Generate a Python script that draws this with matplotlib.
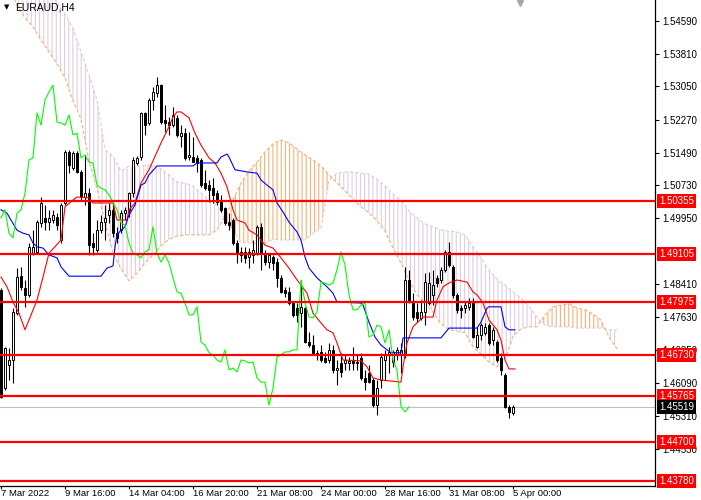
import numpy as np
import matplotlib
matplotlib.use("Agg")
import matplotlib.pyplot as plt

plt.rcParams['font.family'] = ['Liberation Sans', 'DejaVu Sans']
plt.rcParams['hatch.linewidth'] = 0.8

# ---- EURAUD H4 candles (bar 0 = 7 Mar 2022 00:00) ----
opens = [1.4826, 1.4596, 1.4650, 1.4662, 1.4772, 1.4859, 1.4831, 1.4815, 1.4913, 1.4916,
         1.4984, 1.4996, 1.4986, 1.4991, 1.4998, 1.4944, 1.5031, 1.5151, 1.5113, 1.5148,
         1.5104, 1.5045, 1.5054, 1.4937, 1.4921, 1.4967, 1.4986, 1.5003, 1.5015, 1.4960,
         1.4967, 1.5007, 1.5015, 1.5054, 1.5125, 1.5139, 1.5243, 1.5219, 1.5273, 1.5289,
         1.5308, 1.5226, 1.5221, 1.5214, 1.5231, 1.5188, 1.5195, 1.5139, 1.5139, 1.5137,
         1.5132, 1.5078, 1.5073, 1.5066, 1.5054, 1.5033, 1.5019, 1.4986, 1.4991, 1.4937,
         1.4916, 1.4916, 1.4904, 1.4909, 1.4913, 1.4975, 1.4909, 1.4892, 1.4904, 1.4892,
         1.4855, 1.4826, 1.4822, 1.4796, 1.4784, 1.4772, 1.4784, 1.4704, 1.4697, 1.4679,
         1.4681, 1.4667, 1.4662, 1.4686, 1.4639, 1.4655, 1.4655, 1.4655, 1.4662, 1.4655,
         1.4667, 1.4620, 1.4631, 1.4615, 1.4556, 1.4615, 1.4662, 1.4674, 1.4657, 1.4674,
         1.4674, 1.4679, 1.4850, 1.4796, 1.4775, 1.4761, 1.4775, 1.4796, 1.4815, 1.4855,
         1.4850, 1.4874, 1.4916, 1.4881, 1.4815, 1.4784, 1.4784, 1.4787, 1.4796, 1.4693,
         1.4721, 1.4726, 1.4744, 1.4709, 1.4704, 1.4667, 1.4627, 1.4552, 1.4537]
highs = [1.4831, 1.4693, 1.4690, 1.4784, 1.4878, 1.4881, 1.4850, 1.4937, 1.4967, 1.4991,
         1.5045, 1.5026, 1.5015, 1.5015, 1.5007, 1.5031, 1.5156, 1.5156, 1.5153, 1.5153,
         1.5109, 1.5144, 1.5066, 1.4960, 1.4991, 1.5003, 1.5026, 1.5031, 1.5026, 1.4975,
         1.5015, 1.5022, 1.5057, 1.5139, 1.5141, 1.5245, 1.5245, 1.5278, 1.5304, 1.5327,
         1.5311, 1.5261, 1.5233, 1.5257, 1.5238, 1.5214, 1.5207, 1.5198, 1.5186, 1.5144,
         1.5137, 1.5109, 1.5085, 1.5090, 1.5062, 1.5050, 1.5022, 1.5007, 1.4996, 1.4944,
         1.4928, 1.4928, 1.4925, 1.4944, 1.4979, 1.4984, 1.4921, 1.4913, 1.4909, 1.4902,
         1.4862, 1.4834, 1.4834, 1.4798, 1.4796, 1.4850, 1.4787, 1.4728, 1.4721, 1.4686,
         1.4697, 1.4681, 1.4702, 1.4697, 1.4662, 1.4679, 1.4674, 1.4669, 1.4693, 1.4674,
         1.4679, 1.4639, 1.4650, 1.4620, 1.4615, 1.4679, 1.4686, 1.4693, 1.4686, 1.4693,
         1.4702, 1.4881, 1.4874, 1.4819, 1.4796, 1.4803, 1.4866, 1.4869, 1.4874, 1.4862,
         1.4881, 1.4921, 1.4939, 1.4885, 1.4819, 1.4791, 1.4798, 1.4808, 1.4808, 1.4740,
         1.4749, 1.4749, 1.4749, 1.4740, 1.4709, 1.4679, 1.4631, 1.4556, 1.4556]
lows = [1.4573, 1.4591, 1.4615, 1.4608, 1.4768, 1.4826, 1.4787, 1.4810, 1.4909, 1.4913,
        1.4975, 1.4967, 1.4967, 1.4984, 1.4967, 1.4937, 1.5026, 1.5101, 1.5109, 1.5101,
        1.5038, 1.5026, 1.4909, 1.4909, 1.4916, 1.4960, 1.4944, 1.4984, 1.4951, 1.4937,
        1.4960, 1.4991, 1.4998, 1.5045, 1.5120, 1.5132, 1.5191, 1.5214, 1.5250, 1.5280,
        1.5217, 1.5198, 1.5191, 1.5210, 1.5186, 1.5163, 1.5132, 1.5132, 1.5127, 1.5104,
        1.5069, 1.5062, 1.5033, 1.5031, 1.5026, 1.5010, 1.4979, 1.4967, 1.4932, 1.4890,
        1.4892, 1.4890, 1.4878, 1.4890, 1.4909, 1.4874, 1.4885, 1.4878, 1.4874, 1.4834,
        1.4819, 1.4810, 1.4791, 1.4763, 1.4751, 1.4740, 1.4702, 1.4693, 1.4674, 1.4662,
        1.4657, 1.4655, 1.4655, 1.4631, 1.4603, 1.4622, 1.4639, 1.4639, 1.4639, 1.4639,
        1.4615, 1.4591, 1.4608, 1.4552, 1.4533, 1.4596, 1.4615, 1.4631, 1.4646, 1.4662,
        1.4631, 1.4667, 1.4796, 1.4756, 1.4751, 1.4756, 1.4744, 1.4791, 1.4791, 1.4834,
        1.4843, 1.4869, 1.4881, 1.4808, 1.4772, 1.4761, 1.4772, 1.4780, 1.4714, 1.4690,
        1.4709, 1.4721, 1.4697, 1.4697, 1.4657, 1.4627, 1.4549, 1.4526, 1.4533]
closes = [1.4575, 1.4690, 1.4662, 1.4775, 1.4857, 1.4834, 1.4815, 1.4928, 1.4928, 1.4986,
          1.5031, 1.4986, 1.4996, 1.5003, 1.4979, 1.5026, 1.5151, 1.5120, 1.5148, 1.5104,
          1.5045, 1.5054, 1.4932, 1.4928, 1.4967, 1.4986, 1.4996, 1.5015, 1.4960, 1.4949,
          1.5007, 1.5015, 1.5054, 1.5132, 1.5137, 1.5243, 1.5214, 1.5273, 1.5292, 1.5308,
          1.5221, 1.5219, 1.5214, 1.5238, 1.5191, 1.5195, 1.5137, 1.5144, 1.5127, 1.5125,
          1.5073, 1.5066, 1.5062, 1.5050, 1.5033, 1.5015, 1.4984, 1.4979, 1.4937, 1.4913,
          1.4909, 1.4902, 1.4916, 1.4921, 1.4975, 1.4913, 1.4892, 1.4909, 1.4890, 1.4855,
          1.4822, 1.4819, 1.4796, 1.4768, 1.4768, 1.4787, 1.4704, 1.4697, 1.4679, 1.4674,
          1.4662, 1.4657, 1.4686, 1.4639, 1.4643, 1.4634, 1.4662, 1.4660, 1.4655, 1.4657,
          1.4620, 1.4610, 1.4610, 1.4556, 1.4596, 1.4669, 1.4674, 1.4681, 1.4681, 1.4686,
          1.4686, 1.4850, 1.4798, 1.4763, 1.4761, 1.4775, 1.4845, 1.4843, 1.4838, 1.4843,
          1.4874, 1.4916, 1.4885, 1.4815, 1.4780, 1.4780, 1.4791, 1.4796, 1.4716, 1.4721,
          1.4744, 1.4740, 1.4702, 1.4733, 1.4662, 1.4639, 1.4552, 1.4540, 1.45519]

# ---- Ichimoku lines (bar index, price) ----
tenkan_bar = [0, 1.5, 3, 4.5, 6, 7, 9, 10.5, 12, 15, 16, 18, 19, 22, 23, 28, 29, 31.5, 32, 33.5,
              35, 37, 40, 42, 43, 44, 45, 47, 48.5, 50, 52, 53.5, 55, 56.5, 58, 59, 61, 62, 64, 66,
              68, 70, 72, 73.5, 75, 76.5, 78, 80, 81.5, 83, 84, 85.5, 90, 91.5, 93, 95, 100, 100.5,
              101.5, 103, 105.5, 108, 109, 110.5, 112, 114, 116.5, 118, 119, 120.5, 122, 124, 125,
              126, 127, 128.5]
tenkan = [1.4857, 1.4834, 1.4798, 1.4772, 1.4733, 1.4756, 1.4803, 1.4857, 1.4913, 1.4944,
          1.5022, 1.5038, 1.5045, 1.5043, 1.5031, 1.5031, 1.4991, 1.4991, 1.5015, 1.5031,
          1.5078, 1.5109, 1.5172, 1.5210, 1.5233, 1.5245, 1.5245, 1.5231, 1.5195, 1.5167,
          1.5137, 1.5125, 1.5101, 1.5069, 1.5015, 1.4991, 1.4984, 1.4967, 1.4956, 1.4932,
          1.4925, 1.4902, 1.4878, 1.4857, 1.4838, 1.4819, 1.4772, 1.4749, 1.4733, 1.4726,
          1.4702, 1.4662, 1.4660, 1.4646, 1.4620, 1.4615, 1.4610, 1.4646, 1.4702, 1.4740,
          1.4763, 1.4763, 1.4803, 1.4834, 1.4843, 1.4850, 1.4845, 1.4822, 1.4815, 1.4796,
          1.4756, 1.4733, 1.4709, 1.4662, 1.4641, 1.4641]

kijun_bar = [0, 1.5, 4, 5.5, 7, 8, 9, 10.5, 12, 14, 15, 17, 25, 26.5, 28, 28.5, 29, 30, 31, 32,
             33.5, 35, 36, 37, 39, 48, 49, 54, 55, 56.5, 57, 58.5, 61.5, 64, 65, 66.5, 68, 69,
             70.5, 72, 74, 75, 76, 77, 79, 81.5, 83, 84, 90, 90.5, 92, 93.5, 95, 96.5, 97.5, 100,
             100.5, 110, 112, 119, 120, 121.5, 122, 125, 126, 127, 128.5]
kijun = [1.5015, 1.5007, 1.4967, 1.4960, 1.4956, 1.4937, 1.4928, 1.4925, 1.4909, 1.4902,
         1.4881, 1.4859, 1.4859, 1.4878, 1.4883, 1.4928, 1.4956, 1.4967, 1.4975, 1.5003,
         1.5026, 1.5073, 1.5078, 1.5097, 1.5118, 1.5118, 1.5125, 1.5125, 1.5139, 1.5146,
         1.5139, 1.5109, 1.5104, 1.5101, 1.5085, 1.5073, 1.5062, 1.5031, 1.5010, 1.4986,
         1.4963, 1.4944, 1.4904, 1.4878, 1.4855, 1.4834, 1.4819, 1.4798, 1.4796, 1.4791,
         1.4751, 1.4716, 1.4697, 1.4686, 1.4679, 1.4679, 1.4714, 1.4714, 1.4737, 1.4737,
         1.4751, 1.4784, 1.4787, 1.4787, 1.4740, 1.4733, 1.4733]

# cloud sampled every 2 bars, bar 0 .. 154
cloud_bar = np.arange(0, 156, 2)
span_a = [1.5574, 1.5541, 1.5496, 1.5466, 1.5445, 1.5414, 1.5386, 1.5358, 1.5325, 1.5271,
          1.5228, 1.5130, 1.5064, 1.4984, 1.4913, 1.4876, 1.4848, 1.4866, 1.4890, 1.4909,
          1.4930, 1.4946, 1.4953, 1.4956, 1.4956, 1.4956, 1.4956, 1.4968, 1.4998, 1.5038,
          1.5078, 1.5106, 1.5127, 1.5151, 1.5170, 1.5179, 1.5172, 1.5158, 1.5144, 1.5132,
          1.5118, 1.5097, 1.5078, 1.5059, 1.5040, 1.5022, 1.5008, 1.4989, 1.4965, 1.4925,
          1.4890, 1.4850, 1.4815, 1.4796, 1.4775, 1.4747, 1.4733, 1.4730, 1.4726, 1.4693,
          1.4676, 1.4657, 1.4646, 1.4662, 1.4718, 1.4735, 1.4740, 1.4740, 1.4768, 1.4787,
          1.4791, 1.4794, 1.4784, 1.4780, 1.4770, 1.4756, 1.4716, 1.4688]
span_b = [1.5644, 1.5626, 1.5607, 1.5590, 1.5571, 1.5553, 1.5527, 1.5503, 1.5475, 1.5442,
          1.5386, 1.5332, 1.5273, 1.5156, 1.5141, 1.5106, 1.5118, 1.5116, 1.5120, 1.5120,
          1.5111, 1.5097, 1.5080, 1.5078, 1.5071, 1.5054, 1.5040, 1.5026, 1.4996, 1.4965,
          1.4939, 1.4937, 1.4935, 1.4935, 1.4946, 1.4944, 1.4944, 1.4944, 1.4944, 1.4960,
          1.4972, 1.5083, 1.5101, 1.5104, 1.5104, 1.5101, 1.5099, 1.5087, 1.5071, 1.5052,
          1.5038, 1.5012, 1.4996, 1.4982, 1.4975, 1.4968, 1.4965, 1.4963, 1.4956, 1.4928,
          1.4902, 1.4874, 1.4852, 1.4838, 1.4822, 1.4808, 1.4787, 1.4763, 1.4744, 1.4740,
          1.4740, 1.4740, 1.4737, 1.4737, 1.4737, 1.4737, 1.4733, 1.4733]

levels = [1.50355, 1.49105, 1.47975, 1.46730, 1.45765, 1.44700, 1.43780]
last_price = 1.45519
price_ticks = [1.54590, 1.53810, 1.53050, 1.52270, 1.51490, 1.50730, 1.49950,
               1.48410, 1.47630, 1.46850, 1.46090, 1.45310, 1.44530]
time_tick_bars = [0, 16, 32, 48, 64, 80, 96, 112, 128]
time_labels = ["7 Mar 2022", "9 Mar 16:00", "14 Mar 04:00", "16 Mar 20:00", "21 Mar 08:00",
               "24 Mar 00:00", "28 Mar 16:00", "31 Mar 08:00", "5 Apr 00:00"]

SANDY = (0.957, 0.643, 0.376, 0.85)
THISTLE = (0.847, 0.749, 0.847, 0.8)

fig = plt.figure(figsize=(7.01, 5.0), dpi=100)
ax = fig.add_axes([0, 14 / 500, 655 / 701, 486 / 500])
ax.set_xlim(-0.25, 163.5)
ax.set_ylim(1.43659, 1.5508)

# cloud
a = np.array(span_a)
b = np.array(span_b)
ax.fill_between(cloud_bar, a, b, where=a >= b, interpolate=True, facecolor="none",
                edgecolor=SANDY, hatch="||||", linewidth=0, zorder=1)
ax.fill_between(cloud_bar, a, b, where=a < b, interpolate=True, facecolor="none",
                edgecolor=THISTLE, hatch="||||", linewidth=0, zorder=1)
ax.plot(cloud_bar, a, color=SANDY, lw=0.8, ls=(0, (3, 2)), zorder=1)
ax.plot(cloud_bar, b, color=THISTLE, lw=0.8, ls=(0, (3, 2)), zorder=1)

# current price line
ax.axhline(last_price, color="#C0C0C0", lw=0.8, zorder=1)

# candles
idx = np.arange(len(closes))
o = np.array(opens)
c = np.array(closes)
ax.vlines(idx, lows, highs, color="black", lw=0.8, zorder=2)
up = c >= o
ax.bar(idx[up], c[up] - o[up], bottom=o[up], width=0.62, color="white",
       edgecolor="black", linewidth=0.7, zorder=2.1)
ax.bar(idx[~up], o[~up] - c[~up], bottom=c[~up], width=0.62, color="black",
       edgecolor="black", linewidth=0.7, zorder=2.1)

# indicator lines
ax.plot(tenkan_bar, tenkan, color="#FF0000", lw=0.8, zorder=3)
ax.plot(kijun_bar, kijun, color="#0000FF", lw=0.8, zorder=3)
ax.plot(idx[26:] - 26, c[26:], color="#00FF00", lw=0.8, zorder=3)

# horizontal levels
for lv in levels:
    ax.axhline(lv, color="#FF0000", lw=1.6, zorder=4)

# axes cosmetics
for side in ["left", "top"]:
    ax.spines[side].set_visible(False)
for side in ["right", "bottom"]:
    ax.spines[side].set_color("black")
    ax.spines[side].set_linewidth(0.9)
ax.yaxis.tick_right()
ax.set_yticks(price_ticks)
ax.set_yticklabels([f"{t:.5f}" for t in price_ticks])
ax.tick_params(axis="y", direction="out", length=3, width=0.8, pad=2, labelsize=7)
ax.set_xticks(time_tick_bars)
ax.set_xticklabels(time_labels, ha="left")
ax.tick_params(axis="x", direction="out", length=2.5, width=0.8, pad=0, labelsize=6.8)

ytr = ax.get_yaxis_transform()
for lv in levels:
    ax.text(1.006, lv, f"{lv:.5f}", transform=ytr, ha="left", va="center", fontsize=7,
            color="white", clip_on=False, zorder=6,
            bbox=dict(boxstyle="square,pad=0.2", fc="#FF0000", ec="none"))
ax.text(1.006, last_price, f"{last_price:.5f}", transform=ytr, ha="left", va="center",
        fontsize=7, color="white", clip_on=False, zorder=6,
        bbox=dict(boxstyle="square,pad=0.2", fc="black", ec="none"))

# title and shift marker
fig.text(4 / 701, 1 - 7 / 500, "\u25bc", fontsize=5, va="center", ha="left",
         family=["DejaVu Sans"])
fig.text(15 / 701, 1 - 7 / 500, "EURAUD,H4", fontsize=7.5, va="center", ha="left")
ax.plot([129.75], [1.5502], marker="v", color="#A8A8A8", ms=5, clip_on=False, zorder=6)

fig.savefig("out.png", dpi=100)
